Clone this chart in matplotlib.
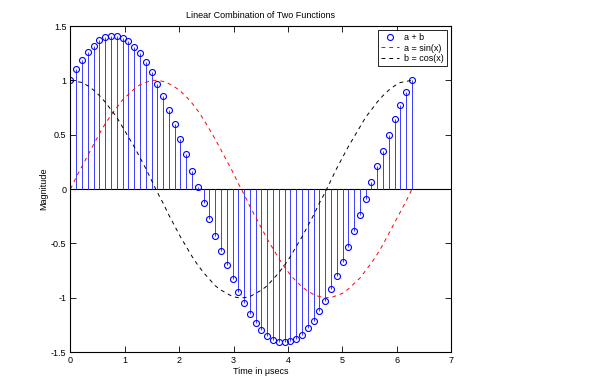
# Stem plot of a + b with the two component curves, MATLAB look.
import matplotlib as mpl
import matplotlib.pyplot as plt
from matplotlib.lines import Line2D

mpl.rcParams['font.family'] = 'sans-serif'
mpl.rcParams['font.sans-serif'] = 'Liberation Sans'
mpl.rcParams['axes.unicode_minus'] = False

# data
time = [0.000, 0.106, 0.213, 0.319, 0.426, 0.532, 0.639, 0.745, 0.852, 0.958,
        1.065, 1.171, 1.278, 1.384, 1.491, 1.597, 1.704, 1.810, 1.917, 2.023,
        2.130, 2.236, 2.343, 2.449, 2.556, 2.662, 2.769, 2.875, 2.982, 3.088,
        3.195, 3.301, 3.408, 3.514, 3.621, 3.727, 3.834, 3.940, 4.047, 4.153,
        4.260, 4.366, 4.473, 4.579, 4.686, 4.792, 4.899, 5.005, 5.112, 5.218,
        5.325, 5.431, 5.538, 5.644, 5.751, 5.857, 5.964, 6.070, 6.177, 6.283]

sin_vals = [0.00, 0.11, 0.21, 0.31, 0.41, 0.51, 0.60, 0.68, 0.75, 0.82,
            0.87, 0.92, 0.96, 0.98, 1.00, 1.00, 0.99, 0.97, 0.94, 0.90,
            0.85, 0.79, 0.72, 0.64, 0.55, 0.46, 0.36, 0.26, 0.16, 0.05,
            -0.05, -0.16, -0.26, -0.36, -0.46, -0.55, -0.64, -0.72, -0.79, -0.85,
            -0.90, -0.94, -0.97, -0.99, -1.00, -1.00, -0.98, -0.96, -0.92, -0.87,
            -0.82, -0.75, -0.68, -0.60, -0.51, -0.41, -0.31, -0.21, -0.11, 0.00]

cos_vals = [1.00, 0.99, 0.98, 0.95, 0.91, 0.86, 0.80, 0.73, 0.66, 0.57,
            0.48, 0.39, 0.29, 0.19, 0.08, -0.03, -0.13, -0.24, -0.34, -0.44,
            -0.53, -0.62, -0.70, -0.77, -0.83, -0.89, -0.93, -0.96, -0.99, -1.00,
            -1.00, -0.99, -0.96, -0.93, -0.89, -0.83, -0.77, -0.70, -0.62, -0.53,
            -0.44, -0.34, -0.24, -0.13, -0.03, 0.08, 0.19, 0.29, 0.39, 0.48,
            0.57, 0.66, 0.73, 0.80, 0.86, 0.91, 0.95, 0.98, 0.99, 1.00]

sum_vals = [1.00, 1.10, 1.19, 1.26, 1.32, 1.37, 1.40, 1.41, 1.41, 1.39,
            1.36, 1.31, 1.25, 1.17, 1.08, 0.97, 0.86, 0.73, 0.60, 0.46,
            0.32, 0.17, 0.02, -0.13, -0.28, -0.43, -0.57, -0.70, -0.83, -0.95,
            -1.05, -1.15, -1.23, -1.30, -1.35, -1.39, -1.41, -1.41, -1.40, -1.38,
            -1.34, -1.28, -1.21, -1.12, -1.03, -0.92, -0.80, -0.67, -0.53, -0.39,
            -0.24, -0.09, 0.06, 0.21, 0.35, 0.50, 0.64, 0.77, 0.89, 1.00]

y_ticks = [-1.5, -1, -0.5, 0, 0.5, 1, 1.5]
y_tick_labels = ['-1.5', '-1', '-0.5', '0', '0.5', '1', '1.5']
x_ticks = [0, 1, 2, 3, 4, 5, 6, 7]

FONT_SIZE = 6.5
STEM_BLUE = '#3b3bff'
MARKER_BLUE = '#0000ff'

fig = plt.figure(figsize=(6.01, 3.87), dpi=100)
ax = fig.add_axes([0.1173, 0.0904, 0.633, 0.8424])

markers, stems, base = ax.stem(time, sum_vals, linefmt='b-', markerfmt='bo',
                               basefmt=' ')
stems.set_linewidth(0.7)
stems.set_color(STEM_BLUE)
markers.set_markerfacecolor('none')
markers.set_markeredgecolor(MARKER_BLUE)
markers.set_markersize(4.3)
markers.set_markeredgewidth(0.8)

ax.plot(time, sin_vals, 'r--', linewidth=0.7, dashes=(4, 4))
ax.plot(time, cos_vals, 'k--', linewidth=0.7, dashes=(4, 4))
ax.axhline(0, color='black', linewidth=0.8, zorder=1)

ax.set_xlim(0, 7)
ax.set_ylim(-1.5, 1.5)
ax.set_xticks(x_ticks)
ax.set_xticklabels([str(t) for t in x_ticks])
ax.set_yticks(y_ticks)
ax.set_yticklabels(y_tick_labels)
ax.tick_params(direction='in', length=4, width=0.6, top=True, right=True,
               labelsize=FONT_SIZE, pad=3)
for sp in ax.spines.values():
    sp.set_linewidth(0.8)

ax.set_title('Linear Combination of Two Functions', fontsize=FONT_SIZE, pad=6)
ax.set_xlabel('Time in \u03bcsecs', fontsize=FONT_SIZE, labelpad=1)
ax.set_ylabel('Magnitude', fontsize=FONT_SIZE, labelpad=2)

handles = [
    Line2D([], [], linestyle='none', marker='o', markersize=4.3,
           markerfacecolor='none', markeredgecolor=MARKER_BLUE, markeredgewidth=0.8),
    Line2D([], [], color='red', linestyle='--', linewidth=0.7, dashes=(4, 4)),
    Line2D([], [], color='black', linestyle='--', linewidth=0.7, dashes=(4, 4)),
]
labels = ['a + b', 'a = sin(x)', 'b = cos(x)']
leg = ax.legend(handles, labels, loc='upper right', fontsize=FONT_SIZE,
                fancybox=False, edgecolor='black', framealpha=1,
                borderpad=0.35, borderaxespad=0, handlelength=1.9,
                handletextpad=0.6, labelspacing=0.15,
                bbox_to_anchor=(0.9895, 0.9877))
leg.get_frame().set_linewidth(0.6)

fig.savefig('out.png', dpi=100)
